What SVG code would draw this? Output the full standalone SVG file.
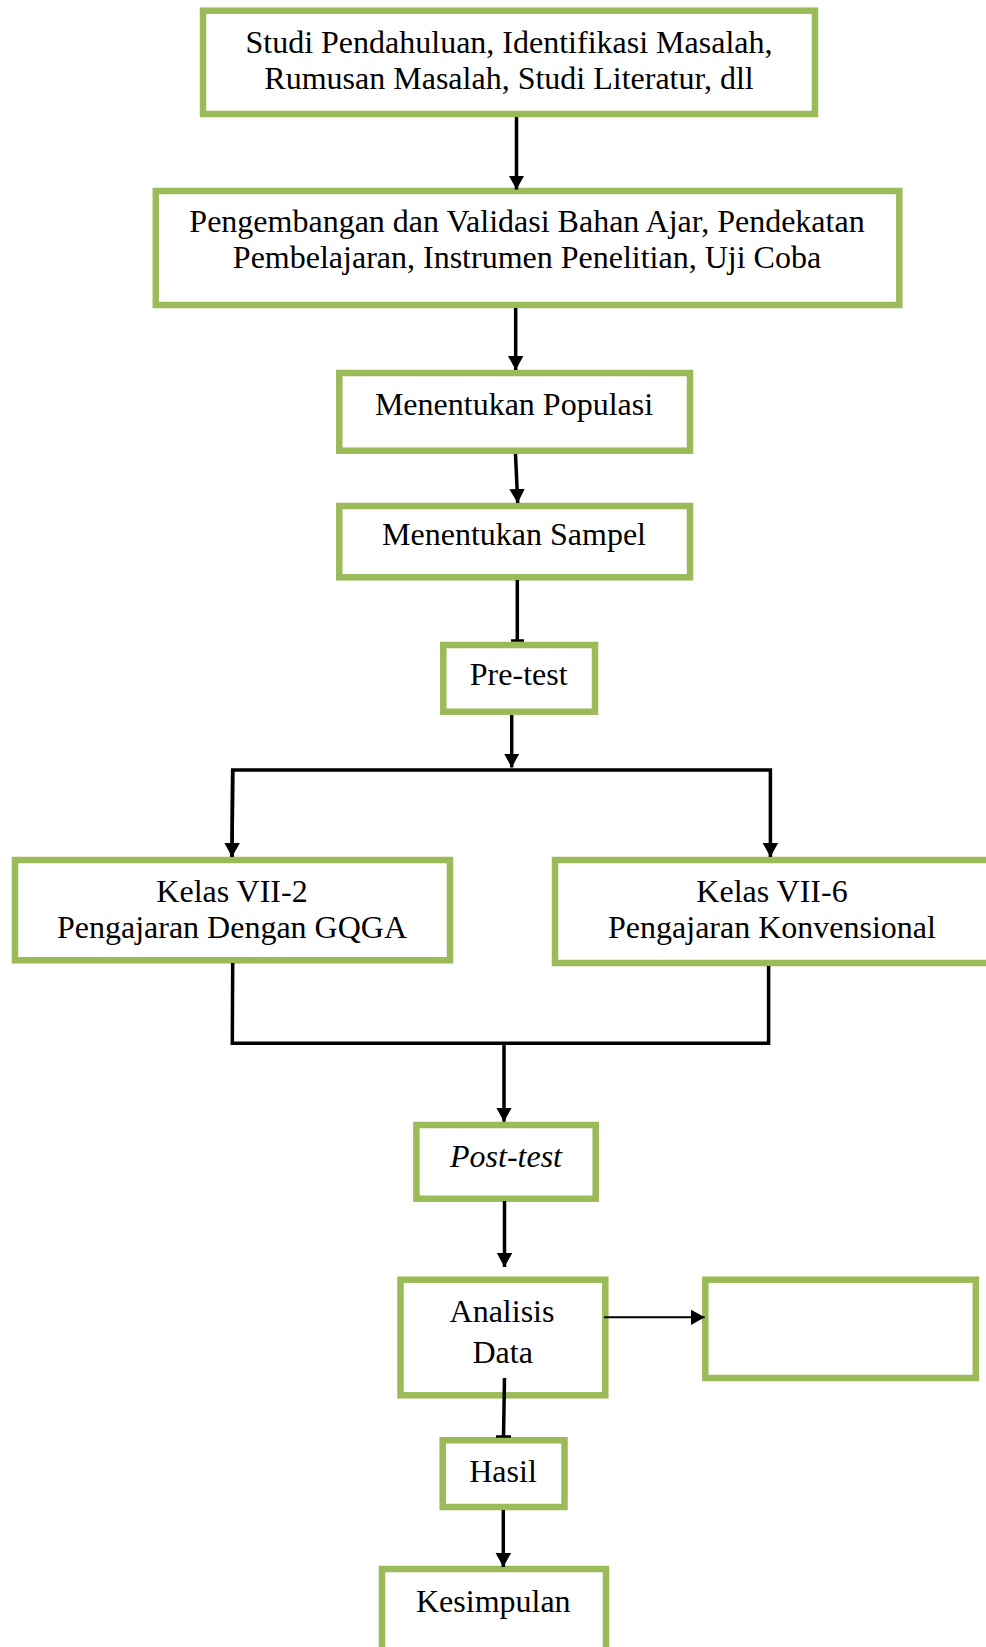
<svg xmlns="http://www.w3.org/2000/svg" width="986" height="1647" viewBox="0 0 986 1647">
<style>
.box{fill:#ffffff;stroke:#9BBB59;stroke-width:6.5}
.t{font-family:"Liberation Serif","Times New Roman",serif;font-size:32px;fill:#000;text-anchor:middle}
.it{font-style:italic}
.c{stroke:#000;stroke-width:3.5;fill:none}
.thin{stroke-width:2}
.bar{stroke:#000;stroke-width:2.5}
</style>
<defs>
<marker id="ah" markerUnits="userSpaceOnUse" markerWidth="15" markerHeight="16" refX="14" refY="7.75" orient="auto" viewBox="0 0 15 16">
<path d="M0,0 L14,7.75 L0,15.5 z" fill="#000"/>
</marker>
</defs>
<rect width="986" height="1647" fill="#ffffff"/>
<g id="n1"><rect class="box" x="203" y="10.7" width="612" height="103.3"/>
<text class="t" x="509" y="52.7">Studi Pendahuluan, Identifikasi Masalah,</text>
<text class="t" x="509" y="89.3">Rumusan Masalah, Studi Literatur, dll</text></g>
<g id="n2"><rect class="box" x="155.8" y="191" width="743.5" height="114"/>
<text class="t" x="527" y="231.7">Pengembangan dan Validasi Bahan Ajar, Pendekatan</text>
<text class="t" x="527" y="268.3">Pembelajaran, Instrumen Penelitian, Uji Coba</text></g>
<g id="n3"><rect class="box" x="339.3" y="373" width="350.7" height="77.7"/>
<text class="t" x="514" y="415">Menentukan Populasi</text></g>
<g id="n4"><rect class="box" x="339.3" y="506" width="350.7" height="71.3"/>
<text class="t" x="514" y="545">Menentukan Sampel</text></g>
<g id="n5"><rect class="box" x="443.3" y="645" width="151.7" height="66.7"/>
<text class="t" x="518.7" y="685">Pre-test</text></g>
<g id="n6"><rect class="box" x="15" y="860" width="435" height="100.3"/>
<text class="t" x="232" y="901.7">Kelas VII-2</text>
<text class="t" x="232" y="938.3">Pengajaran Dengan GQGA</text></g>
<g id="n7"><rect class="box" x="555" y="860" width="450" height="103"/>
<text class="t" x="772" y="901.7">Kelas VII-6</text>
<text class="t" x="772" y="938.3">Pengajaran Konvensional</text></g>
<g id="n8"><rect class="box" x="416.4" y="1125" width="179.3" height="73.7"/>
<text class="t it" x="506" y="1166.7">Post-test</text></g>
<g id="n9"><rect class="box" x="400.5" y="1279.7" width="204.8" height="115.6"/>
<text class="t" x="502" y="1321.7">Analisis</text>
<text class="t" x="502.7" y="1363.3">Data</text></g>
<g id="n10"><rect class="box" x="705.3" y="1279.7" width="270.5" height="98.3"/></g>
<g id="n11"><rect class="box" x="442.7" y="1440.3" width="121.8" height="66.7"/>
<text class="t" x="503" y="1481.7">Hasil</text></g>
<g id="n12"><rect class="box" x="382" y="1569" width="224" height="100"/>
<text class="t" x="493.3" y="1611.7">Kesimpulan</text></g>
<g id="connectors">
<line class="c" x1="516.5" y1="117" x2="516.5" y2="189.5" marker-end="url(#ah)"/>
<line class="c" x1="515.7" y1="308" x2="515.7" y2="370" marker-end="url(#ah)"/>
<line class="c" x1="515.5" y1="454" x2="517.7" y2="503" marker-end="url(#ah)"/>
<line class="c" x1="517.3" y1="580" x2="517.3" y2="641"/>
<line class="bar" x1="511" y1="640.5" x2="524" y2="640.5"/>
<line class="c" x1="511.7" y1="715" x2="511.7" y2="767.5" marker-end="url(#ah)"/>
<polyline class="c" points="232,857 232.7,770 770.4,770 770.4,857" marker-end="url(#ah)"/>
<line class="c" x1="232.7" y1="770" x2="232" y2="857" marker-end="url(#ah)"/>
<polyline class="c" points="232.7,963 232.3,1043.3 768.6,1043.3 768.6,966"/>
<line class="c" x1="504" y1="1043.3" x2="504" y2="1121.7" marker-end="url(#ah)"/>
<line class="c" x1="504.5" y1="1201" x2="504.5" y2="1267" marker-end="url(#ah)"/>
<line class="c thin" x1="604" y1="1317.3" x2="704.7" y2="1317.3" marker-end="url(#ah)"/>
<line class="c" x1="504.5" y1="1378" x2="503.5" y2="1437"/>
<line class="bar" x1="496" y1="1436.5" x2="511" y2="1436.5"/>
<line class="c" x1="503.3" y1="1510" x2="503.3" y2="1567" marker-end="url(#ah)"/>
</g>
</svg>
